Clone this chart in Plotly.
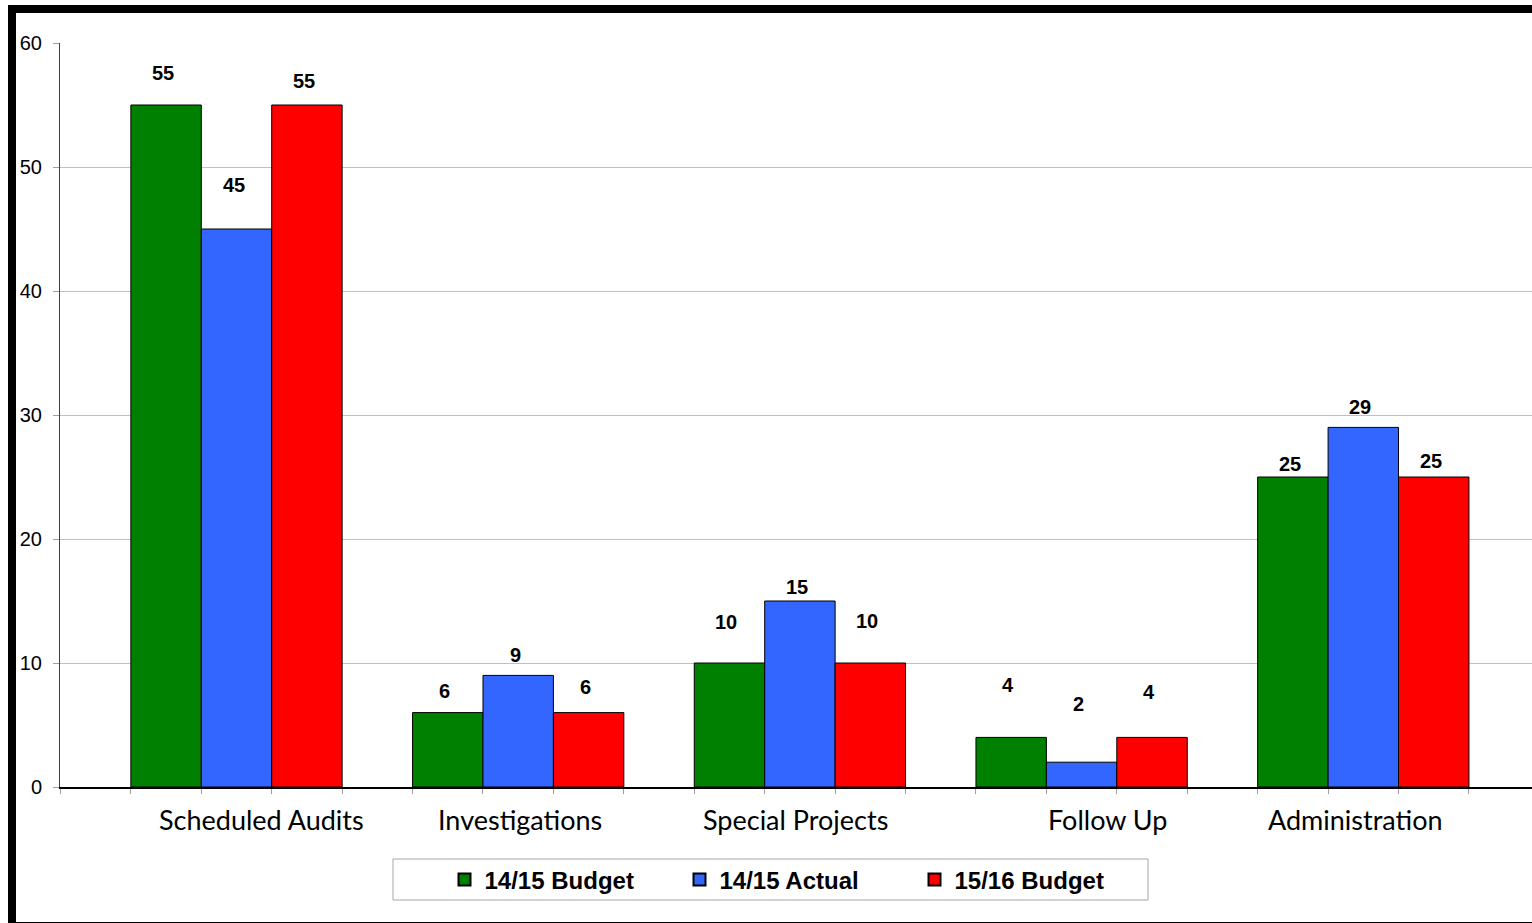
import plotly.graph_objects as go

categories = ["Scheduled Audits", "Investigations", "Special Projects", "Follow Up", "Administration"]
series_names = ["14/15 Budget", "14/15 Actual", "15/16 Budget"]
budget_1415 = [55, 6, 10, 4, 25]
actual_1415 = [45, 9, 15, 2, 29]
budget_1516 = [55, 6, 10, 4, 25]
y_ticks = [0, 10, 20, 30, 40, 50, 60]

series_values = [budget_1415, actual_1415, budget_1516]
colors = ["#008000", "#3366FF", "#FF0000"]

# style: label offsets (pixels above bar top) per series/category, as in the original
label_yshift = [
    [32, 22, 41, 52, 13],
    [44, 20, 14, 58, 20],
    [24, 26, 42, 45, 16],
]
# style: category label offsets (in category units)
cat_label_dx = [0.09, 0.007, -0.015, 0.091, -0.027]

W, H = 1532, 923
ML, MT, MB = 60, 43, 136
plot_w = W - ML
plot_h = H - MT - MB
cat_w = 281.7
first_center = 236.5
x0 = -(first_center - ML) / cat_w
x1 = x0 + plot_w / cat_w

fig = go.Figure()
xs = list(range(len(categories)))
for name, vals, col in zip(series_names, series_values, colors):
    fig.add_trace(go.Bar(
        x=xs, y=vals, name=name,
        marker=dict(color=col, line=dict(color="black", width=1)),
    ))

annotations = []
for k, vals in enumerate(series_values):
    for i, v in enumerate(vals):
        annotations.append(dict(
            x=i + (k - 1) * 0.25, y=v, xref="x", yref="y",
            text=f"<b>{v}</b>", showarrow=False,
            yanchor="middle", xanchor="center",
            yshift=label_yshift[k][i], xshift=-3,
            font=dict(family="Liberation Sans, Arial", size=20, color="black"),
        ))
for i, c in enumerate(categories):
    annotations.append(dict(
        x=i + cat_label_dx[i], y=0, xref="x", yref="y",
        text=c, showarrow=False, yanchor="middle", xanchor="center",
        yshift=-32,
        font=dict(family="Lato, Open Sans", size=27, color="black"),
    ))

def px_to_paper_x(px):
    return (px - ML) / plot_w

def px_to_paper_y(py):
    return (MT + plot_h - py) / plot_h

shapes = [
    # legend box
    dict(type="rect", xref="paper", yref="paper", layer="below",
         x0=px_to_paper_x(393), x1=px_to_paper_x(1148),
         y0=px_to_paper_y(900), y1=px_to_paper_y(859),
         line=dict(color="#a6a6a6", width=1), fillcolor="rgba(0,0,0,0)"),
    # outer frame
    dict(type="rect", xref="paper", yref="paper", layer="below",
         x0=px_to_paper_x(12), x1=px_to_paper_x(1545),
         y0=px_to_paper_y(926), y1=px_to_paper_y(9),
         line=dict(color="black", width=8), fillcolor="rgba(0,0,0,0)"),
]

fig.update_layout(
    width=W, height=H,
    margin=dict(l=ML, r=0, t=MT, b=MB, pad=0),
    paper_bgcolor="white", plot_bgcolor="white",
    barmode="group", bargap=0.25, bargroupgap=0,
    showlegend=True,
    legend=dict(
        orientation="h", x=px_to_paper_x(797), xanchor="center",
        y=px_to_paper_y(880), yanchor="middle",
        font=dict(family="Liberation Sans, Arial", size=24, color="black", weight="bold"),
        bgcolor="rgba(0,0,0,0)", borderwidth=0,
        entrywidth=190, entrywidthmode="pixels", itemsizing="constant",
    ),
    annotations=annotations,
    shapes=shapes,
    xaxis=dict(
        range=[x0, x1], showgrid=False, zeroline=False,
        showticklabels=False,
        tick0=0.125, dtick=0.25, ticks="outside", ticklen=5,
        tickcolor="#a0a0a0", tickwidth=1,
        showline=True, linecolor="black", linewidth=1.5,
        mirror=False,
    ),
    yaxis=dict(
        range=[0, 60], tickvals=y_ticks,
        showgrid=True, gridcolor="#c0c0c0", gridwidth=1,
        zeroline=False,
        ticks="outside", ticklen=6, tickcolor="#a0a0a0",
        showline=True, linecolor="#404040", linewidth=1,
        ticklabelstandoff=7,
        tickfont=dict(family="Liberation Sans, Arial", size=20, color="black"),
    ),
)

fig.write_html("out.html")
